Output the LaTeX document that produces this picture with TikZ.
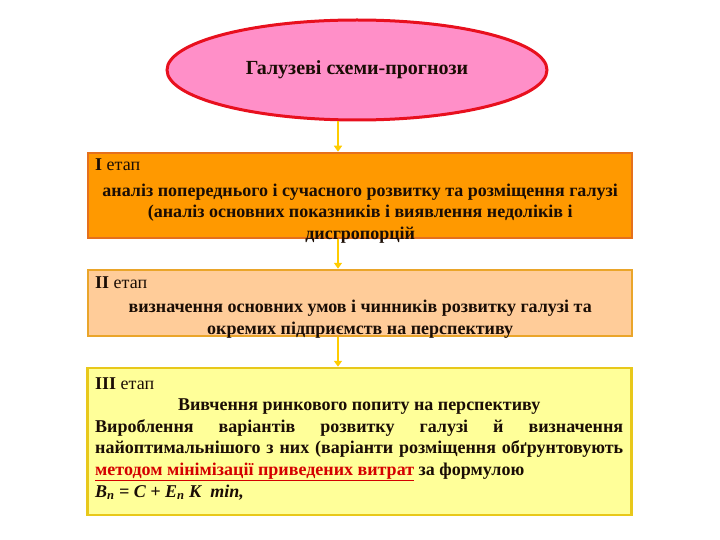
\documentclass[tikz,border=0pt]{standalone}
\usepackage{fontspec}
\setmainfont{Liberation Serif}
\usetikzlibrary{shapes.geometric,arrows.meta}
\definecolor{ellfill}{HTML}{FF8FC8}
\definecolor{elldraw}{HTML}{E8101E}
\definecolor{oneFill}{HTML}{FF9900}
\definecolor{oneDraw}{HTML}{E5701C}
\definecolor{twoFill}{HTML}{FFCC99}
\definecolor{twoDraw}{HTML}{EAA52A}
\definecolor{threeFill}{HTML}{FFFF99}
\definecolor{threeDraw}{HTML}{E8C81A}
\definecolor{arrcol}{HTML}{FFCC00}
\definecolor{txtcol}{HTML}{1A0D05}
\definecolor{redtxt}{HTML}{D40000}
\tikzset{
  stagebox/.style={rectangle, line width=2.5pt, minimum width=544pt, inner sep=0pt},
  stagetext/.style={anchor=base west, inner sep=0pt, text=txtcol, font=\fontsize{18}{21.6}\selectfont},
  flowarrow/.style={draw=arrcol, line width=2.5pt, -{Triangle[length=6pt,width=8pt]}}
}
\begin{document}
\begin{tikzpicture}[x=1pt,y=-1pt]
\useasboundingbox (0,0) rectangle (720,540);
\node[ellipse, draw=elldraw, fill=ellfill, line width=3pt, minimum width=380pt, minimum height=100pt, text=txtcol, font=\fontsize{20}{24}\selectfont\bfseries] (top) at (357,70) {Галузеві схеми-прогнози};
\node[stagebox, fill=oneFill, draw=oneDraw, minimum height=85pt] (s1) at (360,195.5) {};
\node[stagebox, fill=twoFill, draw=twoDraw, minimum height=66pt] (s2) at (360,303) {};
\node[stagebox, fill=threeFill, draw=threeDraw, minimum height=147pt] (s3) at (359.5,441.5) {};
\coordinate (ax) at (338,0);
\draw[flowarrow] (top.south -| ax) -- (s1.north -| ax);
\draw[flowarrow] (s1.south -| ax) -- (s2.north -| ax);
\draw[flowarrow] (s2.south -| ax) -- (s3.north -| ax);
\node[stagetext] (t1) at (95,171) {\parbox[t]{530pt}{\textbf{I} етап\par\vspace{3.5pt}
\centering\bfseries аналіз попереднього і сучасного розвитку та розміщення галузі\\
(аналіз основних показників і виявлення недоліків і\\
дисгропорцій\par}};
\node[stagetext] (t2) at (95,288.5) {\parbox[t]{530pt}{\textbf{II} етап\par\vspace{2.5pt}
\centering\bfseries визначення основних умов і чинників розвитку галузі та\\
окремих підприємств на перспективу\par}};
\node[stagetext] (t3) at (95,389) {\parbox[t]{528pt}{\textbf{III} етап\par
{\centering\bfseries Вивчення ринкового попиту на перспективу\par}
\bfseries Вироблення варіантів розвитку галузі й визначення\linebreak
найоптимальнішого з них (варіанти розміщення обґрунтовують\linebreak
\textcolor{redtxt}{\underline{методом мінімізації приведених витрат}} за формулою\par
\textit{В\textsubscript{п} = С + Е\textsubscript{п} К~~min,}\par}};
\end{tikzpicture}
\end{document}
